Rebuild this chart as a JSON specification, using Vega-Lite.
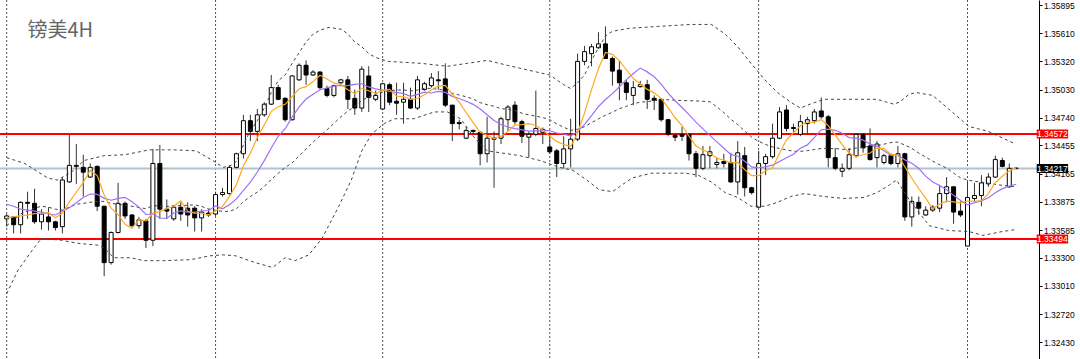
{
"$schema": "https://vega.github.io/schema/vega-lite/v6.json",
"width": 1039,
"height": 359,
"autosize": {"type": "none"},
"padding": {"left": 0, "top": 0, "right": 41, "bottom": 0},
"background": "#ffffff",
"config": {"view": {"stroke": null}, "axis": {"labelOverlap": false, "labelFlush": false, "labelBound": false}, "axisY": {"labelFont": "Liberation Sans", "labelFontSize": 8.5, "labelColor": "#000000", "tickColor": "#000000", "tickSize": 3, "tickWidth": 1, "domainColor": "#000000", "domainWidth": 1, "grid": false, "labelPadding": 1.5, "labelOverlap": false, "labelFlush": false, "labelBound": false}},
"datasets": {
"candles": [
{"i":0,"o":1.337,"h":1.3375,"l":1.3362,"c":1.3373,"m5":1.3371,"m10":1.3385,"m20":1.3363},
{"i":1,"o":1.3372,"h":1.3373,"l":1.3355,"c":1.3364,"m5":1.3372,"m10":1.3383,"m20":1.3369},
{"i":2,"o":1.3364,"h":1.3388,"l":1.3355,"c":1.3387,"m5":1.3373,"m10":1.338,"m20":1.3375},
{"i":3,"o":1.3387,"h":1.3398,"l":1.337,"c":1.3386,"m5":1.3374,"m10":1.3379,"m20":1.3378},
{"i":4,"o":1.3386,"h":1.3401,"l":1.3365,"c":1.3367,"m5":1.33754,"m10":1.3378,"m20":1.3381},
{"i":5,"o":1.3367,"h":1.338,"l":1.3359,"c":1.3375,"m5":1.33758,"m10":1.3377,"m20":1.3383},
{"i":6,"o":1.3372,"h":1.3382,"l":1.3358,"c":1.3367,"m5":1.33764,"m10":1.3375,"m20":1.3382},
{"i":7,"o":1.3367,"h":1.3368,"l":1.3358,"c":1.3361,"m5":1.33712,"m10":1.3374,"m20":1.338},
{"i":8,"o":1.3362,"h":1.3413,"l":1.3355,"c":1.341,"m5":1.3376,"m10":1.3378,"m20":1.3379},
{"i":9,"o":1.3408,"h":1.3457,"l":1.3407,"c":1.3425,"m5":1.33876,"m10":1.33815,"m20":1.3382},
{"i":10,"o":1.3425,"h":1.3447,"l":1.3406,"c":1.3424,"m5":1.33974,"m10":1.33866,"m20":1.3385},
{"i":11,"o":1.3423,"h":1.3436,"l":1.3393,"c":1.3418,"m5":1.34076,"m10":1.3392,"m20":1.3386},
{"i":12,"o":1.3413,"h":1.3427,"l":1.3412,"c":1.3423,"m5":1.342,"m10":1.33956,"m20":1.3387},
{"i":13,"o":1.3424,"h":1.3425,"l":1.3378,"c":1.3383,"m5":1.34146,"m10":1.33953,"m20":1.3388},
{"i":14,"o":1.3383,"h":1.3383,"l":1.3311,"c":1.3325,"m5":1.33946,"m10":1.33911,"m20":1.3388},
{"i":15,"o":1.3325,"h":1.3357,"l":1.3323,"c":1.3356,"m5":1.3381,"m10":1.33892,"m20":1.3386},
{"i":16,"o":1.3356,"h":1.3407,"l":1.3355,"c":1.3386,"m5":1.33744,"m10":1.3391,"m20":1.3385},
{"i":17,"o":1.3386,"h":1.3388,"l":1.337,"c":1.3373,"m5":1.33644,"m10":1.33922,"m20":1.3384},
{"i":18,"o":1.3374,"h":1.3375,"l":1.3362,"c":1.3363,"m5":1.33604,"m10":1.33875,"m20":1.3383},
{"i":19,"o":1.3363,"h":1.3372,"l":1.336,"c":1.3369,"m5":1.33692,"m10":1.33819,"m20":1.33817},
{"i":20,"o":1.3368,"h":1.337,"l":1.334,"c":1.3348,"m5":1.3368,"m10":1.33745,"m20":1.33805},
{"i":21,"o":1.3348,"h":1.3442,"l":1.3342,"c":1.3427,"m5":1.3376,"m10":1.33752,"m20":1.33836},
{"i":22,"o":1.3427,"h":1.3446,"l":1.337,"c":1.338,"m5":1.33774,"m10":1.33709,"m20":1.33832},
{"i":23,"o":1.338,"h":1.339,"l":1.337,"c":1.3378,"m5":1.33804,"m10":1.33704,"m20":1.33828},
{"i":24,"o":1.337,"h":1.3383,"l":1.3368,"c":1.3382,"m5":1.3383,"m10":1.33761,"m20":1.33836},
{"i":25,"o":1.3382,"h":1.3387,"l":1.3368,"c":1.3375,"m5":1.33884,"m10":1.33782,"m20":1.33837},
{"i":26,"o":1.3381,"h":1.3387,"l":1.3362,"c":1.3374,"m5":1.33778,"m10":1.33769,"m20":1.3384},
{"i":27,"o":1.3381,"h":1.3383,"l":1.3357,"c":1.3371,"m5":1.3376,"m10":1.33767,"m20":1.33844},
{"i":28,"o":1.3371,"h":1.338,"l":1.3357,"c":1.3377,"m5":1.33758,"m10":1.33781,"m20":1.33828},
{"i":29,"o":1.3376,"h":1.338,"l":1.3372,"c":1.3374,"m5":1.33742,"m10":1.33786,"m20":1.33802},
{"i":30,"o":1.3375,"h":1.3398,"l":1.3373,"c":1.3395,"m5":1.33782,"m10":1.33833,"m20":1.33789},
{"i":31,"o":1.3395,"h":1.3402,"l":1.3393,"c":1.3397,"m5":1.33828,"m10":1.33803,"m20":1.33777},
{"i":32,"o":1.3396,"h":1.3425,"l":1.3395,"c":1.3423,"m5":1.33932,"m10":1.33846,"m20":1.33777},
{"i":33,"o":1.3423,"h":1.3438,"l":1.3422,"c":1.3437,"m5":1.34052,"m10":1.33905,"m20":1.33804},
{"i":34,"o":1.3437,"h":1.3477,"l":1.3432,"c":1.3471,"m5":1.34246,"m10":1.33994,"m20":1.33877},
{"i":35,"o":1.3471,"h":1.3477,"l":1.345,"c":1.346,"m5":1.34376,"m10":1.34079,"m20":1.3393},
{"i":36,"o":1.346,"h":1.3483,"l":1.345,"c":1.3477,"m5":1.34536,"m10":1.34182,"m20":1.33975},
{"i":37,"o":1.3477,"h":1.349,"l":1.3475,"c":1.3488,"m5":1.34666,"m10":1.34299,"m20":1.34033},
{"i":38,"o":1.3488,"h":1.3518,"l":1.3487,"c":1.3505,"m5":1.34806,"m10":1.34429,"m20":1.34105},
{"i":39,"o":1.3505,"h":1.3508,"l":1.3492,"c":1.3493,"m5":1.34854,"m10":1.3455,"m20":1.34168},
{"i":40,"o":1.3494,"h":1.3495,"l":1.347,"c":1.3472,"m5":1.34878,"m10":1.34627,"m20":1.3423},
{"i":41,"o":1.3472,"h":1.3518,"l":1.3471,"c":1.3517,"m5":1.34958,"m10":1.34747,"m20":1.34275},
{"i":42,"o":1.3513,"h":1.353,"l":1.3512,"c":1.3528,"m5":1.35038,"m10":1.34852,"m20":1.34349},
{"i":43,"o":1.3528,"h":1.3533,"l":1.3508,"c":1.3518,"m5":1.3506,"m10":1.34933,"m20":1.34419},
{"i":44,"o":1.3518,"h":1.3523,"l":1.3517,"c":1.3521,"m5":1.35112,"m10":1.34983,"m20":1.34488},
{"i":45,"o":1.3521,"h":1.3522,"l":1.3503,"c":1.3505,"m5":1.35178,"m10":1.35028,"m20":1.34553},
{"i":46,"o":1.3504,"h":1.3507,"l":1.3495,"c":1.3497,"m5":1.35138,"m10":1.35048,"m20":1.34615},
{"i":47,"o":1.3497,"h":1.3508,"l":1.3495,"c":1.3507,"m5":1.35096,"m10":1.35067,"m20":1.34683},
{"i":48,"o":1.351,"h":1.3514,"l":1.3508,"c":1.3513,"m5":1.35084,"m10":1.35072,"m20":1.3475},
{"i":49,"o":1.3513,"h":1.3517,"l":1.3483,"c":1.3493,"m5":1.35028,"m10":1.3507,"m20":1.3481},
{"i":50,"o":1.3494,"h":1.3503,"l":1.3477,"c":1.3484,"m5":1.34988,"m10":1.35083,"m20":1.34855},
{"i":51,"o":1.3484,"h":1.3527,"l":1.348,"c":1.3524,"m5":1.35042,"m10":1.3509,"m20":1.34918},
{"i":52,"o":1.3517,"h":1.3527,"l":1.348,"c":1.3495,"m5":1.35018,"m10":1.35057,"m20":1.34954},
{"i":53,"o":1.3493,"h":1.3502,"l":1.3491,"c":1.3497,"m5":1.3499,"m10":1.35037,"m20":1.34985},
{"i":54,"o":1.3483,"h":1.351,"l":1.3482,"c":1.3509,"m5":1.35022,"m10":1.35025,"m20":1.35004},
{"i":55,"o":1.3508,"h":1.351,"l":1.3487,"c":1.349,"m5":1.35032,"m10":1.3501,"m20":1.35019},
{"i":56,"o":1.3491,"h":1.351,"l":1.3477,"c":1.3489,"m5":1.34962,"m10":1.35002,"m20":1.35025},
{"i":57,"o":1.349,"h":1.351,"l":1.3468,"c":1.3493,"m5":1.34958,"m10":1.34988,"m20":1.35027},
{"i":58,"o":1.3493,"h":1.3505,"l":1.3483,"c":1.3484,"m5":1.3493,"m10":1.3496,"m20":1.35016},
{"i":59,"o":1.3484,"h":1.3517,"l":1.3482,"c":1.3513,"m5":1.34938,"m10":1.3498,"m20":1.35025},
{"i":60,"o":1.3503,"h":1.3511,"l":1.3502,"c":1.3509,"m5":1.34976,"m10":1.35004,"m20":1.35043},
{"i":61,"o":1.3507,"h":1.352,"l":1.3505,"c":1.3515,"m5":1.35028,"m10":1.34995,"m20":1.35042},
{"i":62,"o":1.3513,"h":1.3522,"l":1.3503,"c":1.3512,"m5":1.35066,"m10":1.35012,"m20":1.35034},
{"i":63,"o":1.3514,"h":1.353,"l":1.3485,"c":1.3487,"m5":1.35072,"m10":1.35001,"m20":1.35019},
{"i":64,"o":1.3487,"h":1.3487,"l":1.345,"c":1.3468,"m5":1.34982,"m10":1.3496,"m20":1.34992},
{"i":65,"o":1.3469,"h":1.3472,"l":1.3462,"c":1.3468,"m5":1.349,"m10":1.34938,"m20":1.34974},
{"i":66,"o":1.3453,"h":1.3465,"l":1.3452,"c":1.3461,"m5":1.34792,"m10":1.3491,"m20":1.34956},
{"i":67,"o":1.3461,"h":1.3462,"l":1.3457,"c":1.346,"m5":1.3469,"m10":1.34878,"m20":1.34933},
{"i":68,"o":1.3459,"h":1.346,"l":1.3425,"c":1.3437,"m5":1.3459,"m10":1.34831,"m20":1.34895},
{"i":69,"o":1.3437,"h":1.3475,"l":1.3428,"c":1.3453,"m5":1.3456,"m10":1.34771,"m20":1.34875},
{"i":70,"o":1.3453,"h":1.346,"l":1.3402,"c":1.3452,"m5":1.34526,"m10":1.34713,"m20":1.34858},
{"i":71,"o":1.3453,"h":1.3475,"l":1.3447,"c":1.3473,"m5":1.3455,"m10":1.34671,"m20":1.34833},
{"i":72,"o":1.3472,"h":1.3487,"l":1.346,"c":1.3485,"m5":1.346,"m10":1.34645,"m20":1.34828},
{"i":73,"o":1.3487,"h":1.3491,"l":1.3467,"c":1.347,"m5":1.34666,"m10":1.34628,"m20":1.34814},
{"i":74,"o":1.347,"h":1.3472,"l":1.3448,"c":1.3455,"m5":1.3467,"m10":1.34615,"m20":1.34787},
{"i":75,"o":1.3454,"h":1.346,"l":1.3433,"c":1.3457,"m5":1.3468,"m10":1.34603,"m20":1.3477},
{"i":76,"o":1.3457,"h":1.3502,"l":1.3455,"c":1.3463,"m5":1.3466,"m10":1.34605,"m20":1.34757},
{"i":77,"o":1.3459,"h":1.3464,"l":1.3447,"c":1.3462,"m5":1.34614,"m10":1.34607,"m20":1.34742},
{"i":78,"o":1.3444,"h":1.3457,"l":1.3437,"c":1.3439,"m5":1.34552,"m10":1.34609,"m20":1.3472},
{"i":79,"o":1.344,"h":1.3442,"l":1.3413,"c":1.3427,"m5":1.34496,"m10":1.34583,"m20":1.34677},
{"i":80,"o":1.3427,"h":1.3455,"l":1.3422,"c":1.3442,"m5":1.34466,"m10":1.34573,"m20":1.34643},
{"i":81,"o":1.3442,"h":1.3473,"l":1.3423,"c":1.3452,"m5":1.34444,"m10":1.34552,"m20":1.34611},
{"i":82,"o":1.3452,"h":1.354,"l":1.345,"c":1.3532,"m5":1.34584,"m10":1.34599,"m20":1.34622},
{"i":83,"o":1.3532,"h":1.3548,"l":1.3528,"c":1.3542,"m5":1.3479,"m10":1.34671,"m20":1.34649},
{"i":84,"o":1.354,"h":1.355,"l":1.3527,"c":1.3547,"m5":1.3503,"m10":1.34763,"m20":1.34689},
{"i":85,"o":1.3546,"h":1.3562,"l":1.3545,"c":1.355,"m5":1.35246,"m10":1.34856,"m20":1.34729},
{"i":86,"o":1.355,"h":1.3568,"l":1.3535,"c":1.3535,"m5":1.35412,"m10":1.34928,"m20":1.34766},
{"i":87,"o":1.3535,"h":1.3537,"l":1.3507,"c":1.3522,"m5":1.35392,"m10":1.34988,"m20":1.34797},
{"i":88,"o":1.3523,"h":1.3533,"l":1.3492,"c":1.351,"m5":1.35328,"m10":1.35059,"m20":1.34834},
{"i":89,"o":1.351,"h":1.3513,"l":1.3492,"c":1.35,"m5":1.35234,"m10":1.35132,"m20":1.34857},
{"i":90,"o":1.3497,"h":1.3512,"l":1.3487,"c":1.3505,"m5":1.35144,"m10":1.35195,"m20":1.34884},
{"i":91,"o":1.3506,"h":1.3512,"l":1.3505,"c":1.3508,"m5":1.3509,"m10":1.35251,"m20":1.34901},
{"i":92,"o":1.3508,"h":1.3513,"l":1.3483,"c":1.3493,"m5":1.35032,"m10":1.35212,"m20":1.34905},
{"i":93,"o":1.3494,"h":1.3497,"l":1.3482,"c":1.3492,"m5":1.34996,"m10":1.35162,"m20":1.34916},
{"i":94,"o":1.3493,"h":1.3494,"l":1.347,"c":1.3472,"m5":1.3494,"m10":1.35087,"m20":1.34925},
{"i":95,"o":1.3472,"h":1.3473,"l":1.3455,"c":1.3457,"m5":1.34844,"m10":1.34994,"m20":1.34925},
{"i":96,"o":1.3456,"h":1.3458,"l":1.345,"c":1.3454,"m5":1.3474,"m10":1.34915,"m20":1.34921},
{"i":97,"o":1.3457,"h":1.3465,"l":1.345,"c":1.3455,"m5":1.3466,"m10":1.34846,"m20":1.34917},
{"i":98,"o":1.3457,"h":1.3458,"l":1.343,"c":1.3437,"m5":1.3455,"m10":1.34773,"m20":1.34916},
{"i":99,"o":1.3437,"h":1.344,"l":1.3413,"c":1.3422,"m5":1.3445,"m10":1.34695,"m20":1.34913},
{"i":100,"o":1.3422,"h":1.3445,"l":1.342,"c":1.3436,"m5":1.34408,"m10":1.34626,"m20":1.3491},
{"i":101,"o":1.3435,"h":1.3445,"l":1.3422,"c":1.3439,"m5":1.34378,"m10":1.34559,"m20":1.34905},
{"i":102,"o":1.3426,"h":1.3433,"l":1.3422,"c":1.3428,"m5":1.34324,"m10":1.34492,"m20":1.34852},
{"i":103,"o":1.3429,"h":1.3437,"l":1.3423,"c":1.3427,"m5":1.34304,"m10":1.34427,"m20":1.34794},
{"i":104,"o":1.3428,"h":1.3438,"l":1.3407,"c":1.3408,"m5":1.34276,"m10":1.34363,"m20":1.34725},
{"i":105,"o":1.3408,"h":1.345,"l":1.3395,"c":1.3438,"m5":1.3428,"m10":1.34344,"m20":1.34669},
{"i":106,"o":1.3435,"h":1.3444,"l":1.3393,"c":1.3402,"m5":1.34206,"m10":1.34292,"m20":1.34603},
{"i":107,"o":1.3402,"h":1.3403,"l":1.3395,"c":1.3397,"m5":1.34144,"m10":1.34234,"m20":1.3454},
{"i":108,"o":1.3382,"h":1.344,"l":1.3382,"c":1.3427,"m5":1.34144,"m10":1.34224,"m20":1.34498},
{"i":109,"o":1.3427,"h":1.3437,"l":1.3415,"c":1.3434,"m5":1.34196,"m10":1.34236,"m20":1.34465},
{"i":110,"o":1.3434,"h":1.3468,"l":1.3432,"c":1.3453,"m5":1.34226,"m10":1.34253,"m20":1.3444},
{"i":111,"o":1.3453,"h":1.3485,"l":1.3452,"c":1.348,"m5":1.34374,"m10":1.3429,"m20":1.34424},
{"i":112,"o":1.3482,"h":1.3487,"l":1.346,"c":1.3463,"m5":1.34514,"m10":1.34329,"m20":1.3441},
{"i":113,"o":1.3464,"h":1.3468,"l":1.3457,"c":1.3463,"m5":1.34586,"m10":1.34365,"m20":1.34396},
{"i":114,"o":1.3457,"h":1.3477,"l":1.3455,"c":1.347,"m5":1.34658,"m10":1.34427,"m20":1.34395},
{"i":115,"o":1.3468,"h":1.3475,"l":1.3458,"c":1.3472,"m5":1.34696,"m10":1.34461,"m20":1.34402},
{"i":116,"o":1.3471,"h":1.3483,"l":1.3468,"c":1.348,"m5":1.34696,"m10":1.34535,"m20":1.34413},
{"i":117,"o":1.3481,"h":1.3495,"l":1.3473,"c":1.3475,"m5":1.3472,"m10":1.34617,"m20":1.34425},
{"i":118,"o":1.3475,"h":1.3477,"l":1.3423,"c":1.3433,"m5":1.3466,"m10":1.34623,"m20":1.34423},
{"i":119,"o":1.3433,"h":1.3443,"l":1.342,"c":1.3422,"m5":1.34564,"m10":1.34611,"m20":1.34423},
{"i":120,"o":1.3419,"h":1.3427,"l":1.3413,"c":1.3422,"m5":1.34464,"m10":1.3458,"m20":1.34416},
{"i":121,"o":1.3422,"h":1.3443,"l":1.342,"c":1.3436,"m5":1.34376,"m10":1.34536,"m20":1.34413},
{"i":122,"o":1.3435,"h":1.3458,"l":1.3433,"c":1.3457,"m5":1.3434,"m10":1.3453,"m20":1.34429},
{"i":123,"o":1.3457,"h":1.3458,"l":1.3438,"c":1.3443,"m5":1.3436,"m10":1.3451,"m20":1.34437},
{"i":124,"o":1.3445,"h":1.3463,"l":1.343,"c":1.3431,"m5":1.34378,"m10":1.34471,"m20":1.34449},
{"i":125,"o":1.3433,"h":1.345,"l":1.3423,"c":1.3447,"m5":1.34428,"m10":1.34446,"m20":1.34453},
{"i":126,"o":1.3428,"h":1.3437,"l":1.3426,"c":1.3435,"m5":1.34426,"m10":1.34401,"m20":1.34468},
{"i":127,"o":1.3435,"h":1.3437,"l":1.3425,"c":1.3427,"m5":1.34366,"m10":1.34353,"m20":1.34485},
{"i":128,"o":1.3427,"h":1.3445,"l":1.3423,"c":1.3437,"m5":1.34354,"m10":1.34357,"m20":1.3449},
{"i":129,"o":1.3437,"h":1.3438,"l":1.3368,"c":1.3372,"m5":1.34236,"m10":1.34307,"m20":1.34459},
{"i":130,"o":1.3372,"h":1.3393,"l":1.3362,"c":1.3388,"m5":1.34118,"m10":1.34273,"m20":1.34426},
{"i":131,"o":1.3387,"h":1.3393,"l":1.3374,"c":1.3381,"m5":1.3401,"m10":1.34218,"m20":1.34377},
{"i":132,"o":1.3374,"h":1.3383,"l":1.3373,"c":1.3379,"m5":1.33914,"m10":1.3414,"m20":1.34335},
{"i":133,"o":1.3379,"h":1.3384,"l":1.3377,"c":1.3382,"m5":1.33804,"m10":1.34079,"m20":1.34294},
{"i":134,"o":1.3381,"h":1.3405,"l":1.3377,"c":1.3396,"m5":1.33852,"m10":1.34044,"m20":1.34257},
{"i":135,"o":1.3396,"h":1.3413,"l":1.3387,"c":1.3403,"m5":1.33882,"m10":1.34,"m20":1.34223},
{"i":136,"o":1.3403,"h":1.3403,"l":1.3365,"c":1.3377,"m5":1.33874,"m10":1.33942,"m20":1.34171},
{"i":137,"o":1.3378,"h":1.3388,"l":1.3372,"c":1.3374,"m5":1.33864,"m10":1.33889,"m20":1.34121},
{"i":138,"o":1.3342,"h":1.3408,"l":1.3342,"c":1.3392,"m5":1.33884,"m10":1.33844,"m20":1.341},
{"i":139,"o":1.3391,"h":1.3407,"l":1.3387,"c":1.3394,"m5":1.3388,"m10":1.33866,"m20":1.34086},
{"i":140,"o":1.3394,"h":1.3415,"l":1.3383,"c":1.3407,"m5":1.33888,"m10":1.33885,"m20":1.34079},
{"i":141,"o":1.3406,"h":1.3417,"l":1.3403,"c":1.3413,"m5":1.3396,"m10":1.33917,"m20":1.34067},
{"i":142,"o":1.3413,"h":1.3435,"l":1.3412,"c":1.3431,"m5":1.34074,"m10":1.33969,"m20":1.34054},
{"i":143,"o":1.343,"h":1.3433,"l":1.3423,"c":1.3424,"m5":1.34138,"m10":1.34011,"m20":1.34045},
{"i":144,"o":1.3403,"h":1.3427,"l":1.3402,"c":1.3422,"m5":1.34194,"m10":1.34037,"m20":1.3404},
{"i":145,"o":1.3422,"h":1.3423,"l":1.3421,"c":1.3422,"m5":1.34224,"m10":1.34056,"m20":1.34028}
],
"bands": [
{"s":"u","i":0,"p":1.3433},{"s":"u","i":2.6,"p":1.3427},{"s":"u","i":5.9,"p":1.3412},{"s":"u","i":7.3,"p":1.341},{"s":"u","i":9.3,"p":1.3418},{"s":"u","i":11.1,"p":1.343},{"s":"u","i":14,"p":1.3435},{"s":"u","i":17,"p":1.3436},{"s":"u","i":20.5,"p":1.3441},{"s":"u","i":24,"p":1.3441},{"s":"u","i":27.2,"p":1.344},{"s":"u","i":29.6,"p":1.343},{"s":"u","i":31.1,"p":1.3423},{"s":"u","i":32.2,"p":1.3425},{"s":"u","i":33,"p":1.3429},{"s":"u","i":34,"p":1.3446},{"s":"u","i":35,"p":1.3461},{"s":"u","i":36,"p":1.3471},{"s":"u","i":37,"p":1.3484},{"s":"u","i":38,"p":1.35},{"s":"u","i":39,"p":1.3512},{"s":"u","i":40,"p":1.3518},{"s":"u","i":41,"p":1.353},{"s":"u","i":42,"p":1.3541},{"s":"u","i":43,"p":1.3552},{"s":"u","i":44,"p":1.356},{"s":"u","i":45,"p":1.3564},{"s":"u","i":46.3,"p":1.3567},{"s":"u","i":48.1,"p":1.3565},{"s":"u","i":49,"p":1.356},{"s":"u","i":50,"p":1.3552},{"s":"u","i":51,"p":1.3547},{"s":"u","i":52,"p":1.354},{"s":"u","i":53,"p":1.3536},{"s":"u","i":54.8,"p":1.3532},{"s":"u","i":59.5,"p":1.353},{"s":"u","i":63.3,"p":1.3527},{"s":"u","i":66.2,"p":1.353},{"s":"u","i":69,"p":1.3533},{"s":"u","i":71.9,"p":1.3528},{"s":"u","i":73.7,"p":1.3525},{"s":"u","i":78,"p":1.3518},{"s":"u","i":80,"p":1.3508},{"s":"u","i":81,"p":1.3504},{"s":"u","i":82,"p":1.351},{"s":"u","i":83,"p":1.3518},{"s":"u","i":84,"p":1.3533},{"s":"u","i":85,"p":1.3546},{"s":"u","i":86,"p":1.3558},{"s":"u","i":87,"p":1.3563},{"s":"u","i":89.4,"p":1.3566},{"s":"u","i":93.6,"p":1.3568},{"s":"u","i":98.3,"p":1.357},{"s":"u","i":101.2,"p":1.357},{"s":"u","i":103.2,"p":1.356},{"s":"u","i":105,"p":1.3547},{"s":"u","i":106.9,"p":1.353},{"s":"u","i":108.9,"p":1.3513},{"s":"u","i":110.7,"p":1.35},{"s":"u","i":112.6,"p":1.349},{"s":"u","i":114,"p":1.3484},{"s":"u","i":115.4,"p":1.3488},{"s":"u","i":117.4,"p":1.3493},{"s":"u","i":120.2,"p":1.3493},{"s":"u","i":125,"p":1.3493},{"s":"u","i":126.4,"p":1.349},{"s":"u","i":127.4,"p":1.3488},{"s":"u","i":128.2,"p":1.349},{"s":"u","i":129.6,"p":1.3498},{"s":"u","i":130.6,"p":1.35},{"s":"u","i":133,"p":1.3497},{"s":"u","i":135.3,"p":1.3483},{"s":"u","i":138.2,"p":1.3465},{"s":"u","i":141,"p":1.346},{"s":"u","i":144.9,"p":1.3447},
{"s":"l","i":0,"p":1.3293},{"s":"l","i":1.6,"p":1.3317},{"s":"l","i":3.6,"p":1.3337},{"s":"l","i":5,"p":1.335},{"s":"l","i":7.9,"p":1.3348},{"s":"l","i":10.1,"p":1.3345},{"s":"l","i":13,"p":1.3343},{"s":"l","i":14,"p":1.334},{"s":"l","i":15.4,"p":1.333},{"s":"l","i":17.8,"p":1.333},{"s":"l","i":19.7,"p":1.3327},{"s":"l","i":22.5,"p":1.3327},{"s":"l","i":26.4,"p":1.3328},{"s":"l","i":29.2,"p":1.3332},{"s":"l","i":31.1,"p":1.3333},{"s":"l","i":32.9,"p":1.3332},{"s":"l","i":35.7,"p":1.3325},{"s":"l","i":36.7,"p":1.3323},{"s":"l","i":38.2,"p":1.332},{"s":"l","i":40,"p":1.333},{"s":"l","i":41.4,"p":1.3327},{"s":"l","i":43.4,"p":1.3333},{"s":"l","i":45.3,"p":1.335},{"s":"l","i":47.7,"p":1.3383},{"s":"l","i":49.5,"p":1.341},{"s":"l","i":51,"p":1.344},{"s":"l","i":52.4,"p":1.3457},{"s":"l","i":54.2,"p":1.3468},{"s":"l","i":55.7,"p":1.3473},{"s":"l","i":58.5,"p":1.3473},{"s":"l","i":61.4,"p":1.348},{"s":"l","i":63.3,"p":1.348},{"s":"l","i":65.2,"p":1.3473},{"s":"l","i":67,"p":1.3455},{"s":"l","i":69,"p":1.344},{"s":"l","i":70.9,"p":1.3438},{"s":"l","i":73.7,"p":1.3435},{"s":"l","i":76.6,"p":1.343},{"s":"l","i":79.4,"p":1.3423},{"s":"l","i":81.3,"p":1.342},{"s":"l","i":83.3,"p":1.341},{"s":"l","i":85.1,"p":1.34},{"s":"l","i":87,"p":1.3398},{"s":"l","i":88,"p":1.3403},{"s":"l","i":89.8,"p":1.3412},{"s":"l","i":92.6,"p":1.3417},{"s":"l","i":97.5,"p":1.3417},{"s":"l","i":99.3,"p":1.3415},{"s":"l","i":101.2,"p":1.3408},{"s":"l","i":103.2,"p":1.3397},{"s":"l","i":105,"p":1.3392},{"s":"l","i":106.9,"p":1.3383},{"s":"l","i":108.9,"p":1.3383},{"s":"l","i":110.7,"p":1.3387},{"s":"l","i":112.6,"p":1.3393},{"s":"l","i":114.6,"p":1.3396},{"s":"l","i":117.4,"p":1.3393},{"s":"l","i":120.2,"p":1.3391},{"s":"l","i":123.1,"p":1.3392},{"s":"l","i":125,"p":1.3397},{"s":"l","i":126.8,"p":1.3405},{"s":"l","i":127.8,"p":1.341},{"s":"l","i":129.6,"p":1.339},{"s":"l","i":132.5,"p":1.3363},{"s":"l","i":135.3,"p":1.3358},{"s":"l","i":138.2,"p":1.3357},{"s":"l","i":140.2,"p":1.3353},{"s":"l","i":143,"p":1.3357},{"s":"l","i":144.9,"p":1.3359}
],
"levels": [
{"p":1.34572,"k":"r","t":"1.34572"},
{"p":1.34217,"k":"g","t":"1.34217"},
{"p":1.33494,"k":"r","t":"1.33494"}
],
"grid": [{"i":0},{"i":30},{"i":54},{"i":78},{"i":108},{"i":138}],
"caption": [{"t":"镑美4H"}]
},
"layer": [
{"data":{"name":"grid"},"mark":{"type":"rule","color":"#555555","strokeWidth":1,"strokeDash":[2,2]},
 "encoding":{"x":{"field":"i","type":"quantitative","scale":{"domain":[-0.242,147.55],"nice":false,"zero":false},"axis":null}}},
{"data":{"name":"levels"},"mark":{"type":"rule","strokeWidth":2},
 "encoding":{"y":{"field":"p","type":"quantitative","title":null,"scale":{"domain":[1.3231,1.359],"nice":false,"zero":false},
   "axis":{"orient":"right","values":[1.35895,1.3561,1.3532,1.3503,1.3474,1.34455,1.34165,1.33875,1.33585,1.333,1.3301,1.3272,1.3243],"tickCount":30,"format":".5f","title":null,"labelOverlap":false,"labelFlush":false,"labelBound":false,"labelFont":"Liberation Sans","labelFontSize":8.5,"labelPadding":1.5}},
  "stroke":{"field":"k","type":"nominal","scale":{"domain":["r","g"],"range":["#ff0000","#b4c2cb"]},"legend":null}}},
{"data":{"name":"candles"},"mark":{"type":"rule","color":"#333333","strokeWidth":1},
 "encoding":{"x":{"field":"i","type":"quantitative","scale":{"domain":[-0.242,147.55],"nice":false,"zero":false},"axis":null},
  "y":{"field":"l","type":"quantitative","title":null,"scale":{"domain":[1.3231,1.359],"nice":false,"zero":false}},
  "y2":{"field":"h"}}},
{"data":{"name":"candles"},"mark":{"type":"bar","size":4,"stroke":"#000000","strokeWidth":1},
 "encoding":{"x":{"field":"i","type":"quantitative","scale":{"domain":[-0.242,147.55],"nice":false,"zero":false},"axis":null},
  "y":{"field":"o","type":"quantitative","title":null,"scale":{"domain":[1.3231,1.359],"nice":false,"zero":false}},
  "y2":{"field":"c"},
  "fill":{"condition":{"test":"datum.c < datum.o","value":"#000000"},"value":"#ffffff"}}},
{"data":{"name":"bands"},"mark":{"type":"line","color":"#444444","strokeWidth":1,"strokeDash":[3,3]},
 "encoding":{"x":{"field":"i","type":"quantitative","scale":{"domain":[-0.242,147.55],"nice":false,"zero":false},"axis":null},
  "y":{"field":"p","type":"quantitative","title":null,"scale":{"domain":[1.3231,1.359],"nice":false,"zero":false}},
  "detail":{"field":"s","type":"nominal"}}},
{"data":{"name":"candles"},"mark":{"type":"line","color":"#444444","strokeWidth":1,"strokeDash":[3,3]},
 "encoding":{"x":{"field":"i","type":"quantitative","scale":{"domain":[-0.242,147.55],"nice":false,"zero":false},"axis":null},
  "y":{"field":"m20","type":"quantitative","title":null,"scale":{"domain":[1.3231,1.359],"nice":false,"zero":false}}}},
{"data":{"name":"candles"},"mark":{"type":"line","color":"#a070f5","strokeWidth":1.2},
 "encoding":{"x":{"field":"i","type":"quantitative","scale":{"domain":[-0.242,147.55],"nice":false,"zero":false},"axis":null},
  "y":{"field":"m10","type":"quantitative","title":null,"scale":{"domain":[1.3231,1.359],"nice":false,"zero":false}}}},
{"data":{"name":"candles"},"mark":{"type":"line","color":"#ffa820","strokeWidth":1.2},
 "encoding":{"x":{"field":"i","type":"quantitative","scale":{"domain":[-0.242,147.55],"nice":false,"zero":false},"axis":null},
  "y":{"field":"m5","type":"quantitative","title":null,"scale":{"domain":[1.3231,1.359],"nice":false,"zero":false}}}},
{"data":{"name":"levels"},"mark":{"type":"bar","orient":"horizontal","size":9},
 "encoding":{"x":{"datum":147.94,"type":"quantitative","scale":{"domain":[-0.242,147.55],"nice":false,"zero":false},"axis":null},
  "x2":{"datum":152.45},
  "y":{"field":"p","type":"quantitative","title":null,"scale":{"domain":[1.3231,1.359],"nice":false,"zero":false}},
  "fill":{"field":"k","type":"nominal","scale":{"domain":["r","g"],"range":["#ff0000","#000000"]},"legend":null}}},
{"data":{"name":"levels"},"mark":{"type":"text","align":"center","baseline":"middle","font":"Liberation Sans","fontSize":8.5,"color":"#ffffff"},
 "encoding":{"x":{"datum":150.19,"type":"quantitative","scale":{"domain":[-0.242,147.55],"nice":false,"zero":false},"axis":null},
  "y":{"field":"p","type":"quantitative","title":null,"scale":{"domain":[1.3231,1.359],"nice":false,"zero":false}},
  "text":{"field":"t"}}},
{"data":{"name":"caption"},"mark":{"type":"text","align":"left","baseline":"alphabetic","font":"Noto Sans CJK SC","fontSize":20,"color":"#666666"},
 "encoding":{"x":{"datum":2.99,"type":"quantitative","scale":{"domain":[-0.242,147.55],"nice":false,"zero":false},"axis":null},
  "y":{"datum":1.3557,"type":"quantitative","scale":{"domain":[1.3231,1.359],"nice":false,"zero":false}},
  "text":{"field":"t"}}}
]
}
